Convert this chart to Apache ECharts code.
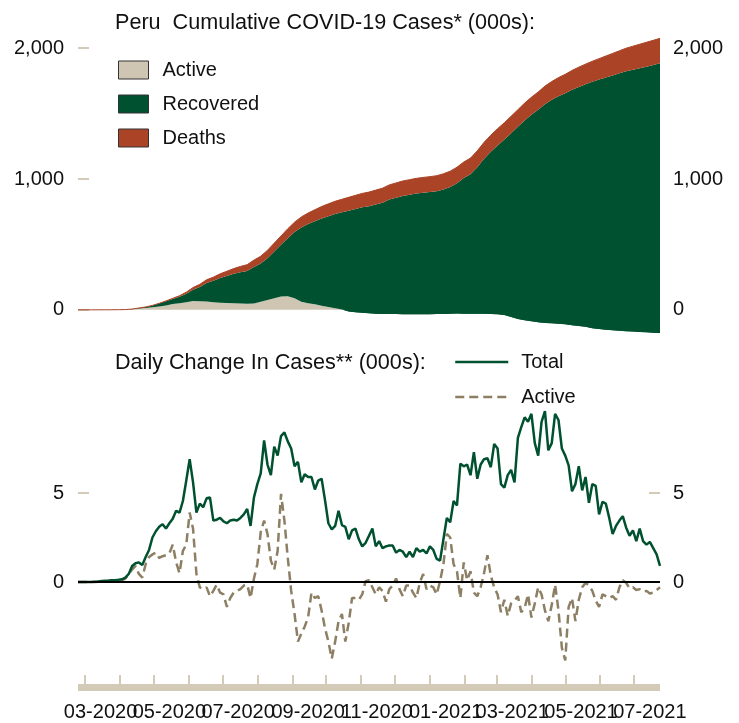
<!DOCTYPE html>
<html>
<head>
<meta charset="utf-8">
<script src="https://cdn.jsdelivr.net/npm/echarts@6/dist/echarts.min.js"></script>
<style>
  html, body { margin: 0; padding: 0; background: #fff; }
  #chart { width: 739px; height: 723px; }
</style>
</head>
<body>
<div id="chart"></div>
<script>
// === data (thousands of cases) ===

// cumulative panel: one reading every 6 days, starting 24-Feb-2020
const cumStep = 6;
const activeCum = [
  0, 0, 0, 0.2, 0.3, 0.6, 1, 2, 5, 10,
  14, 20, 25, 33, 44, 50, 58, 68, 66, 63,
  58, 55, 52, 50, 48, 47, 48, 62, 75, 88,
  102, 104, 88, 62, 50, 42, 32, 22, 12, 2,
  -12, -18, -22, -26, -30, -31, -32, -32, -33, -33,
  -33, -33, -33, -32, -31, -29, -28, -29, -30, -30,
  -30, -31, -33, -40, -55, -70, -80, -88, -95, -100,
  -103, -106, -110, -118, -124, -130, -140, -146, -152, -157,
  -160, -163, -166, -169, -172, -175, -177
];
const recoveredCum = [
  0, 0, 0, 0, 0, 0, 0, 0, 0.8, 3.6,
  7.3, 13, 23, 32, 39, 50, 65, 86, 109, 143,
  164, 188, 207, 225, 240, 250, 280, 292, 320, 358,
  395, 444, 506, 568, 606, 635, 667, 694, 721, 743,
  770, 789, 806, 818, 835, 850, 875, 889, 904, 913,
  922, 928, 933, 938, 951, 968, 996, 1036, 1066, 1120,
  1184, 1239, 1290, 1341, 1405, 1469, 1528, 1579, 1624, 1672,
  1708, 1739, 1765, 1800, 1828, 1854, 1883, 1906, 1928, 1949,
  1968, 1987, 2001, 2015, 2030, 2046, 2061
];
const deathsCum = [
  0, 0, 0, 0, 0, 0, 0, 0, 0.2, 0.4,
  0.7, 1, 2, 3, 5, 8, 12, 16, 20, 24,
  28, 32, 36, 40, 44, 48, 52, 56, 60, 64,
  68, 72, 76, 80, 84, 88, 91, 94, 97, 100,
  102, 104, 106, 108, 110, 111, 112, 113, 114, 115,
  116, 117, 118, 119, 120, 121, 122, 123, 124, 125,
  126, 127, 128, 129, 130, 131, 132, 134, 136, 138,
  140, 142, 145, 148, 151, 154, 157, 160, 164, 168,
  172, 176, 180, 184, 187, 189, 191
];

// daily change panel: one reading every 3 days, starting 24-Feb-2020
const dailyStep = 3;
const totalDaily = [
  0, 0, 0, 0, 0, 0.02, 0.03, 0.05, 0.07, 0.08,
  0.1, 0.1, 0.12, 0.15, 0.25, 0.45, 0.9, 1.05, 1.1, 0.95,
  1.4, 1.8, 2.5, 2.85, 3.1, 3.25, 3.0, 3.3, 3.55, 4.0,
  3.9, 4.55, 5.7, 6.9, 5.6, 3.9, 4.4, 4.2, 4.7, 4.75,
  3.45, 3.5, 3.6, 3.4, 3.3, 3.45, 3.5, 3.45, 3.6, 3.8,
  4.1, 3.15, 4.75, 5.5, 6.1, 7.95, 6.6, 6.0, 7.6, 7.1,
  8.2, 8.4, 7.9, 7.5, 6.5, 6.75, 5.6, 6.05, 5.9, 5.9,
  5.2, 5.7, 5.8, 4.6, 3.3, 2.95, 3.15, 4.0, 3.2, 3.1,
  2.4, 2.9, 3.0, 2.4, 2.0, 2.2, 2.6, 3.0, 2.0, 2.3,
  1.9, 2.0, 2.05, 2.05, 1.65, 1.8, 1.7, 1.4, 1.7, 1.4,
  1.9, 1.7, 1.8, 1.6, 2.0, 1.8, 1.3, 1.2, 2.4, 3.6,
  3.35, 4.55, 4.3, 6.65, 6.5, 6.6, 6.0, 7.3, 5.8, 6.6,
  6.9, 6.95, 6.45, 7.75, 7.5, 5.5, 5.3, 6.0, 6.3, 5.6,
  8.1, 8.7, 9.25, 9.0, 9.45, 7.8, 7.1, 9.0, 9.6, 7.4,
  7.8, 9.45, 9.1, 7.5, 7.1, 6.55, 5.1, 5.5, 6.5, 5.15,
  5.9, 4.45, 5.5, 5.4, 3.8, 4.5, 4.4, 3.6, 2.7, 3.15,
  3.45, 3.7, 3.05, 2.6, 2.9, 2.3, 3.0, 2.3, 2.1, 2.25,
  1.9, 1.55, 0.9
];
const activeDaily = [
  0, 0, 0, 0, 0, 0, 0.01, 0.02, 0.03, 0.04,
  0.05, 0.05, 0.06, 0.08, 0.2, 0.45, 0.7, 0.9, 0.45, 0.25,
  1.0, 1.4, 1.55, 1.65, 1.35, 1.45, 1.5, 1.6, 2.1, 1.1,
  0.5, 1.75, 2.1, 3.9, 3.0, 0.45, -0.3, -0.4, -0.3, -0.8,
  -0.5, -0.15, -0.6, -0.7, -1.4, -0.9, -0.6, -0.5, -0.4, -0.2,
  -0.15, -0.9, 0.2, 1.0, 2.8, 3.45, 2.7, 1.2, 0.7, 1.75,
  4.95, 3.45, 1.35, -0.5, -1.8, -3.35, -2.9, -2.5, -2.0, -0.6,
  -0.9, -0.8, -1.6, -2.6, -3.35, -4.3, -3.35, -2.2, -1.8, -3.35,
  -2.3, -0.9, -0.9, -1.0, -0.7, 0.05, 0.1, -0.3, -0.7, -0.3,
  -0.5, -1.1, -0.4, -0.2, 0.2, -0.4, -0.8, -0.2, -0.2, -0.6,
  -0.9, -0.05, 0.45, -0.4, -0.2, -0.3, -0.7, 0.05, 1.0, 2.7,
  2.5, 1.0, 0.6, -0.9, 1.1, 0.1, 0.6, -0.6, -0.8, -0.3,
  0.5, 1.5, 0.35, -0.3, -0.7, -1.7, -1.0, -1.9, -1.2, -1.05,
  -0.8, -1.7, -1.45, -0.7, -2.0, -1.2, -0.3, -0.7, -1.6, -2.2,
  -1.3, -0.15, -1.6, -3.7, -4.4, -1.4, -0.9, -2.2, -1.0, -0.3,
  -0.05, -0.2, -0.5, -1.05, -1.4, -0.7, -0.8, -0.9, -0.8, -1.0,
  -0.3, 0.1, -0.05, -0.35, -0.3, -0.45, -0.4, -0.55, -0.5, -0.65,
  -0.6, -0.45, -0.3
];

// axis ticks and labels
const monthTicks = [
  '2020-03', '2020-04', '2020-05', '2020-06', '2020-07', '2020-08', '2020-09',
  '2020-10', '2020-11', '2020-12', '2021-01', '2021-02', '2021-03', '2021-04',
  '2021-05', '2021-06', '2021-07'
];
const monthLabels = ['03-2020', '05-2020', '07-2020', '09-2020', '11-2020', '01-2021', '03-2021', '05-2021', '07-2021'];
const yTicksTop = [0, 1000, 2000];
const yTicksBottom = [0, 5];
const totalDays = 516;

// === helpers: bottom x is counted in days since 24-Feb-2020 ===
const DAY = 86400000;
const t0 = Date.UTC(2020, 1, 24);
function dayOf(y, m, d) {
  return Math.round((Date.UTC(y, m - 1, d) - t0) / DAY);
}
function tickDay(s) {
  const [y, m] = s.split('-').map(Number);
  return dayOf(y, m, 1);
}
function labelDay(s) {
  const [m, y] = s.split('-').map(Number);
  return dayOf(y, m, 15);
}
function fmtMonth(v) {
  const d = new Date(t0 + v * DAY);
  return String(d.getUTCMonth() + 1).padStart(2, '0') + '-' + d.getUTCFullYear();
}
const dailyPairs = (arr, step) => arr.map((v, i) => [i * step, v]);
// the stacked panel sits on a (hidden) time axis so that stacking is done on y
const cumPairs = (arr, step) => arr.map((v, i) => [t0 + i * step * DAY, v]);

// labels overlap a little, so they are split over two axes to keep them all
const labelsA = monthLabels.filter((_, i) => i % 2 === 0).map(labelDay);
const labelsB = monthLabels.filter((_, i) => i % 2 === 1).map(labelDay);

// === chart ===
const font = "'Liberation Sans', Arial, sans-serif";
const green = '#00512f';
const rust = '#ab4427';
const beige = '#cec6b3';
const tan = '#d3cbb8';
const dashTan = '#8c7f63';
const ink = '#111';

const chart = echarts.init(document.getElementById('chart'));

function yAxisCfg(grid, side, min, max, ticks, margin, showTick) {
  return {
    type: 'value', gridIndex: grid, position: side, min: min, max: max,
    splitLine: { show: false },
    axisLine: { show: false },
    axisTick: { show: showTick, inside: true, length: 11, lineStyle: { color: tan, width: 2 }, customValues: ticks },
    axisLabel: {
      customValues: ticks, margin: margin, fontFamily: font, fontSize: 20, color: ink,
      formatter: v => v.toLocaleString('en-US')
    }
  };
}
function monthLabelCfg(values) {
  return {
    customValues: values, hideOverlap: false, margin: 15,
    fontFamily: font, fontSize: 20, color: ink, formatter: v => fmtMonth(v)
  };
}

const titleStyle = { fontFamily: font, fontSize: 21.6, fontWeight: 'normal', color: ink };

const option = {
  animation: false,
  backgroundColor: '#fff',
  textStyle: { fontFamily: font },
  title: [
    { text: 'Peru  Cumulative COVID-19 Cases* (000s):', left: 110, top: 7, textStyle: titleStyle },
    { text: 'Daily Change In Cases** (000s):', left: 110, top: 347, textStyle: titleStyle }
  ],
  legend: [
    {
      data: ['Active', 'Recovered', 'Deaths'], orient: 'vertical', left: 113, top: 55,
      icon: 'rect', itemWidth: 30, itemHeight: 18, itemGap: 14, selectedMode: false,
      itemStyle: { borderColor: '#333', borderWidth: 1 },
      textStyle: { fontFamily: font, fontSize: 20, color: ink, padding: [0, 0, 0, 9] }
    },
    {
      data: ['Total', 'ActiveDaily'], orient: 'vertical', left: 449, top: 347,
      itemWidth: 53, itemHeight: 14, itemGap: 15, selectedMode: false,
      itemStyle: { opacity: 0 },
      lineStyle: { width: 2.5 },
      formatter: n => (n === 'ActiveDaily' ? 'Active' : n),
      textStyle: { fontFamily: font, fontSize: 20, color: ink, padding: [0, 0, 0, 8] }
    }
  ],
  grid: [
    { left: 78, right: 79, top: 22, height: 314 },
    { left: 78, right: 79, top: 404, height: 283 },
    { left: 78, right: 79, top: 404, height: 283 }
  ],
  xAxis: [
    { type: 'time', gridIndex: 0, min: t0, max: t0 + totalDays * DAY, show: false },
    {
      type: 'value', gridIndex: 1, min: 0, max: totalDays,
      splitLine: { show: false },
      axisLine: { onZero: false, lineStyle: { color: tan, width: 7, cap: 'butt' } },
      axisTick: { inside: true, length: 12, lineStyle: { color: tan, width: 2 }, customValues: monthTicks.map(tickDay) },
      axisLabel: monthLabelCfg(labelsA)
    },
    {
      type: 'value', gridIndex: 2, min: 0, max: totalDays,
      splitLine: { show: false },
      axisLine: { show: false },
      axisTick: { show: false },
      axisLabel: monthLabelCfg(labelsB)
    }
  ],
  yAxis: [
    yAxisCfg(0, 'left', -200, 2200, yTicksTop, 14, true),
    yAxisCfg(0, 'right', -200, 2200, yTicksTop, 13, false),
    yAxisCfg(1, 'left', -5.9, 10, yTicksBottom, 14, true),
    yAxisCfg(1, 'right', -5.9, 10, yTicksBottom, 13, true),
    { type: 'value', gridIndex: 2, min: -5.9, max: 10, show: false }
  ],
  series: [
    {
      name: 'Active', type: 'line', xAxisIndex: 0, yAxisIndex: 0, stack: 'cum', stackStrategy: 'all',
      symbol: 'none', itemStyle: { color: beige }, lineStyle: { width: 0 }, areaStyle: { color: beige, opacity: 1 },
      data: cumPairs(activeCum, cumStep)
    },
    {
      name: 'Recovered', type: 'line', xAxisIndex: 0, yAxisIndex: 0, stack: 'cum', stackStrategy: 'all',
      symbol: 'none', itemStyle: { color: green }, lineStyle: { width: 0 }, areaStyle: { color: green, opacity: 1 },
      data: cumPairs(recoveredCum, cumStep)
    },
    {
      name: 'Deaths', type: 'line', xAxisIndex: 0, yAxisIndex: 0, stack: 'cum', stackStrategy: 'all',
      symbol: 'none', itemStyle: { color: rust }, lineStyle: { width: 1, color: '#6b3a2a' }, areaStyle: { color: rust, opacity: 1 },
      data: cumPairs(deathsCum, cumStep)
    },
    {
      name: 'ActiveDaily', type: 'line', xAxisIndex: 1, yAxisIndex: 2,
      symbol: 'none', itemStyle: { color: dashTan },
      lineStyle: { color: dashTan, width: 2.5, type: [9, 5] },
      data: dailyPairs(activeDaily, dailyStep)
    },
    {
      name: 'Total', type: 'line', xAxisIndex: 1, yAxisIndex: 2,
      symbol: 'none', itemStyle: { color: green },
      lineStyle: { color: green, width: 2.5 },
      markLine: {
        silent: true, symbol: 'none', label: { show: false },
        lineStyle: { color: '#000', width: 2, type: 'solid' },
        data: [{ yAxis: 0 }]
      },
      data: dailyPairs(totalDaily, dailyStep)
    }
  ]
};

chart.setOption(option);

// below zero the active area is covered by the recovered colour, as in the source
const zeroY = chart.convertToPixel({ yAxisIndex: 0 }, 0);
const h = chart.getHeight();
const cut = zeroY / h;
chart.setOption({
  series: [
    {
      areaStyle: {
        opacity: 1,
        color: {
          type: 'linear', x: 0, y: 0, x2: 0, y2: h, global: true,
          colorStops: [
            { offset: 0, color: beige }, { offset: cut, color: beige },
            { offset: cut, color: green }, { offset: 1, color: green }
          ]
        }
      }
    },
    {},
    // the thin edge only shows where the stack is still flat at zero
    { lineStyle: { width: 1, color: rust } }
  ]
});
window.addEventListener('resize', () => chart.resize());
</script>
</body>
</html>
